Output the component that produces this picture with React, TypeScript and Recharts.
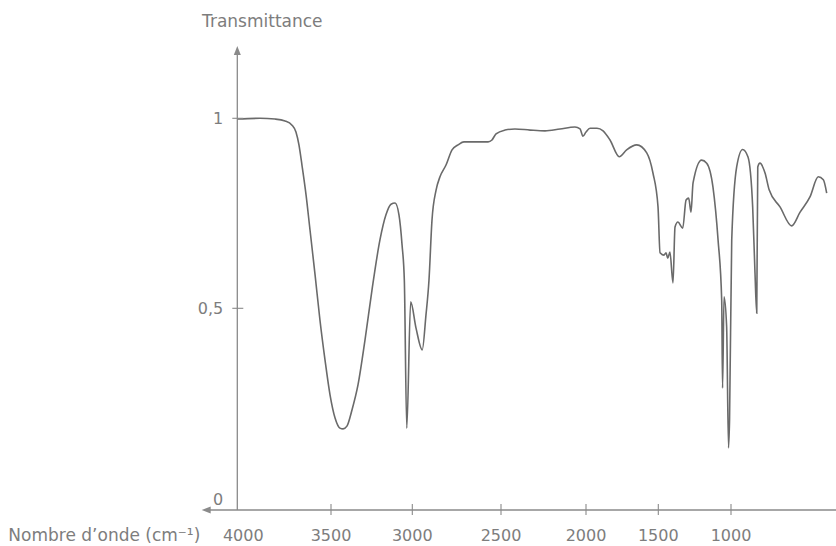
import { LineChart, Line, XAxis, YAxis, ReferenceLine } from 'recharts';

// IR spectrum, wavenumber (cm-1), left to right
const wavenumbers = [
  4000, 3879, 3799, 3745, 3708, 3687, 3671, 3655, 3633, 3612, 3585, 3559, 3532, 3505, 3475, 3445,
  3426, 3402, 3371, 3334, 3291, 3248, 3199, 3162, 3131, 3106, 3082, 3063, 3049, 3034, 3010, 2979,
  2944, 2923, 2906, 2889, 2866, 2844, 2810, 2776, 2742, 2709, 2675, 2573, 2551, 2528, 2476, 2418,
  2329, 2241, 2153, 2065, 2035, 2018, 2000, 1972, 1924, 1882, 1834, 1770, 1719, 1649, 1580, 1537,
  1502, 1488, 1461, 1447, 1435, 1420, 1399, 1385, 1365, 1332, 1309, 1291, 1275, 1261, 1202, 1167,
  1124, 1089, 1064, 1058, 1048, 1030, 1017, 1010, 995, 961, 920, 883, 851, 835, 823, 816,
  801, 766, 737, 663, 583, 525, 457, 400, 365, 342,
];

const transmittance = [
  0.998, 1.0, 0.998, 0.993, 0.982, 0.964, 0.93, 0.877, 0.798, 0.706, 0.588, 0.471, 0.372, 0.285, 0.228, 0.203,
  0.201, 0.208, 0.248, 0.31, 0.421, 0.548, 0.68, 0.746, 0.774, 0.777, 0.746, 0.667, 0.574, 0.203, 0.517, 0.451,
  0.397, 0.483, 0.574, 0.732, 0.811, 0.846, 0.877, 0.917, 0.93, 0.938, 0.938, 0.938, 0.943, 0.959, 0.969, 0.972,
  0.969, 0.967, 0.972, 0.977, 0.972, 0.953, 0.964, 0.974, 0.974, 0.967, 0.943, 0.899, 0.917, 0.93, 0.909, 0.856,
  0.767, 0.646, 0.64, 0.646, 0.632, 0.648, 0.567, 0.714, 0.727, 0.711, 0.785, 0.79, 0.753, 0.83, 0.89, 0.882,
  0.819, 0.68, 0.522, 0.302, 0.53, 0.454, 0.154, 0.223, 0.68, 0.872, 0.918, 0.898, 0.767, 0.593, 0.488, 0.872,
  0.882, 0.856, 0.811, 0.767, 0.717, 0.753, 0.793, 0.846, 0.838, 0.803,
];

const xTicks = [4000, 3500, 3000, 2500, 2000, 1500, 1000];
const yTicks = [0, 0.5, 1];

const data = wavenumbers.map((w, i) => ({ w, t: transmittance[i] }));

// the printed axes are not evenly graduated, so the scales go through
// the tick positions measured on the original (value -> pixel)
const X_KNOTS = [[4000, 237.3], [3500, 331], [3000, 412.3], [2500, 501], [2000, 586], [1500, 658.3], [1000, 731], [278, 836]];
const Y_KNOTS = [[0, 510], [0.5, 308.3], [1, 118.3], [1.25, 23.3]];

function interp(knots: number[][], v: number, from: number, to: number) {
  const n = knots.length;
  const asc = knots[n - 1][from] > knots[0][from];
  let i = 0;
  while (i < n - 2 && (asc ? v > knots[i + 1][from] : v < knots[i + 1][from])) i++;
  const a = knots[i];
  const b = knots[i + 1];
  return a[to] + ((v - a[from]) / (b[from] - a[from])) * (b[to] - a[to]);
}

function knotScale(knots: number[][]): any {
  const p0 = knots[0][1];
  const pN = knots[knots.length - 1][1];
  let range = [p0, pN];
  const scale: any = (v: number) => range[0] + ((interp(knots, v, 0, 1) - p0) / (pN - p0)) * (range[1] - range[0]);
  scale.domain = (d?: number[]) => (d === undefined ? [knots[0][0], knots[knots.length - 1][0]] : scale);
  scale.range = (r?: number[]) => {
    if (r === undefined) return range;
    range = r;
    return scale;
  };
  scale.invert = (px: number) => interp(knots, p0 + ((px - range[0]) / (range[1] - range[0])) * (pN - p0), 1, 0);
  scale.ticks = () => knots.map((k) => k[0]);
  scale.tickFormat = () => (v: number) => String(v);
  scale.clamp = () => scale;
  scale.nice = () => scale;
  scale.copy = () => knotScale(knots).range(range);
  return scale;
}

const xScale = knotScale(X_KNOTS);
const yScale = knotScale(Y_KNOTS);

const AXIS = '#8a8a8a';
const TEXT = '#7d7d7d';
const FONT = 'DejaVu Sans';

function XTick({ x, y, payload }: any) {
  const v = payload.value;
  return (
    <g>
      {v !== 4000 && <line x1={x} x2={x} y1={y - 6} y2={y + 5} stroke={AXIS} strokeWidth={1.1} />}
      <text x={x + (v === 4000 ? 6 : 0)} y={y + 31} textAnchor="middle" fill={TEXT} fontSize={16} fontFamily={FONT}>
        {v}
      </text>
    </g>
  );
}

function YTick({ x, y, payload }: any) {
  const v = payload.value;
  return (
    <g>
      {v !== 0 && <line x1={x - 5} x2={x + 6} y1={y} y2={y} stroke={AXIS} strokeWidth={1.1} />}
      <text x={x - 14} y={y + (v === 0 ? -11 : 0)} dy="0.35em" textAnchor="end" fill={TEXT} fontSize={16} fontFamily={FONT}>
        {v === 0.5 ? '0,5' : v}
      </text>
    </g>
  );
}

const XArrow = ({ x1, y1, x2, y2 }: any) => (
  <g>
    <line x1={x1 + 4} y1={y1} x2={x2} y2={y2} stroke={AXIS} strokeWidth={1.3} />
    <path d={`M${x1},${y1} l9,-3.5 l0,7 z`} fill={AXIS} />
  </g>
);

const YArrow = ({ x1, y1, x2, y2 }: any) => (
  <g>
    <line x1={x1} y1={y1} x2={x2} y2={y2 + 4} stroke={AXIS} strokeWidth={1.3} />
    <path d={`M${x2},${y2} l-3.5,9 l7,0 z`} fill={AXIS} />
  </g>
);

export default function App() {
  return (
    <div style={{ position: 'absolute', left: 0, top: 0, width: 836, height: 546, background: '#fff' }}>
      <LineChart width={836} height={546} data={data} margin={{ top: 23.3, right: 0, bottom: 0, left: 0 }}>
        <XAxis
          dataKey="w"
          type="number"
          scale={xScale}
          domain={[278, 4000]}
          allowDataOverflow
          ticks={xTicks}
          interval={0}
          height={36}
          axisLine={false}
          tickLine={false}
          tickSize={0}
          tickMargin={0}
          tick={<XTick />}
          label={(p: any) => (
            <text x={p.viewBox.x - 37} y={p.viewBox.y + 31} textAnchor="end" fill={TEXT} fontSize={17} fontFamily={FONT}>
              Nombre d’onde (cm⁻¹)
            </text>
          )}
        />
        <YAxis
          type="number"
          scale={yScale}
          domain={[0, 1.25]}
          allowDataOverflow
          ticks={yTicks}
          interval={0}
          width={237.3}
          axisLine={false}
          tickLine={false}
          tickSize={0}
          tickMargin={0}
          tick={<YTick />}
          label={(p: any) => (
            <text x={p.viewBox.x + p.viewBox.width + 25} y={27} textAnchor="middle" fill={TEXT} fontSize={17} fontFamily={FONT}>
              Transmittance
            </text>
          )}
        />
        <ReferenceLine segment={[{ x: 4190, y: 0 }, { x: 278, y: 0 }]} ifOverflow="visible" shape={XArrow} />
        <ReferenceLine segment={[{ x: 4000, y: 0 }, { x: 4000, y: 1.19 }]} ifOverflow="visible" shape={YArrow} />
        <Line
          dataKey="t"
          type="monotone"
          stroke="#6a6a6a"
          strokeWidth={1.6}
          dot={false}
          isAnimationActive={false}
        />
      </LineChart>
    </div>
  );
}
